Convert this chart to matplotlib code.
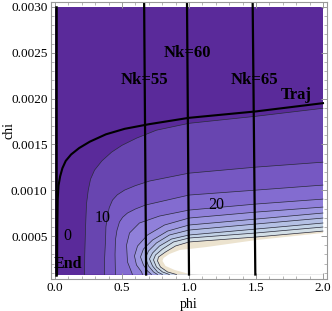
import matplotlib
matplotlib.use("Agg")
import matplotlib.pyplot as plt
from matplotlib.ticker import MultipleLocator, FormatStrFormatter

plt.rcParams['font.family'] = ['Liberation Serif', 'DejaVu Serif']

phi_max = 2.0
chi_min = 0.00008
chi_max = 0.0030

# contour lines, outermost first
contour_phi = [
    [2.0, 1.5, 1.0, 0.757, 0.608, 0.5, 0.422, 0.35, 0.295, 0.265, 0.248, 0.235, 0.228, 0.222, 0.22],
    [2.0, 1.5, 1.0, 0.705, 0.6, 0.519, 0.465, 0.429, 0.405, 0.392, 0.38, 0.377, 0.37, 0.369],
    [2.0, 1.5, 1.0, 0.675, 0.6, 0.541, 0.505, 0.481, 0.462, 0.451, 0.448, 0.451],
    [2.0, 1.5, 1.0, 0.78, 0.63, 0.556, 0.534, 0.541, 0.578],
    [2.0, 1.5, 1.0, 0.817, 0.69, 0.616, 0.593, 0.608, 0.646, 0.653],
    [2.0, 1.5, 1.0, 0.84, 0.728, 0.66, 0.638, 0.66, 0.69, 0.72],
    [2.0, 1.5, 1.0, 0.854, 0.757, 0.698, 0.675, 0.698, 0.735, 0.765],
    [2.0, 1.5, 1.0, 0.869, 0.78, 0.728, 0.705, 0.728, 0.765, 0.802],
    [2.0, 1.5, 1.0, 0.884, 0.802, 0.75, 0.735, 0.757, 0.802, 0.854],
    [2.0, 1.5, 1.0, 0.899, 0.825, 0.772, 0.765, 0.787, 0.84, 0.907],
]
contour_chi = [
    [0.001894, 0.001807, 0.00173, 0.001655, 0.001568, 0.00149, 0.001415, 0.00132, 0.001219, 0.00112, 0.001, 0.00085, 0.0006, 0.0003, 0.00008],
    [0.001306, 0.001252, 0.001186, 0.0011, 0.00105, 0.001001, 0.00095, 0.000892, 0.00081, 0.000729, 0.0006, 0.000456, 0.00025, 0.00008],
    [0.001056, 0.001001, 0.000947, 0.000838, 0.000795, 0.000751, 0.000705, 0.000653, 0.00056, 0.000456, 0.0003, 0.00008],
    [0.000903, 0.000849, 0.000783, 0.000718, 0.000642, 0.000533, 0.000402, 0.000217, 0.00008],
    [0.000816, 0.000761, 0.000696, 0.00062, 0.000511, 0.000391, 0.000282, 0.000184, 0.000108, 0.00008],
    [0.000751, 0.000685, 0.00062, 0.000554, 0.000456, 0.000358, 0.000271, 0.000184, 0.000119, 0.00008],
    [0.000696, 0.000631, 0.000565, 0.000511, 0.000424, 0.000337, 0.00026, 0.000173, 0.000108, 0.00008],
    [0.000642, 0.000576, 0.000511, 0.000467, 0.000391, 0.000315, 0.00025, 0.000173, 0.000108, 0.00008],
    [0.000598, 0.000533, 0.000478, 0.000435, 0.000358, 0.000293, 0.000239, 0.000162, 0.000108, 0.00008],
    [0.000554, 0.000489, 0.000435, 0.000391, 0.000326, 0.000271, 0.000228, 0.000162, 0.000108, 0.00008],
]

# edge of the blank (white) region
blank_phi = [2.0, 1.5, 1.131, 0.929, 0.854, 0.81, 0.802, 0.825, 0.892, 1.0, 1.078]
blank_chi = [0.000533, 0.000456, 0.00038, 0.000347, 0.000304, 0.00026, 0.000228, 0.000173, 0.00013, 0.000086, 0.00008]

traj_phi = [0.015, 0.017, 0.02, 0.026, 0.038, 0.055, 0.08, 0.12, 0.18, 0.26, 0.38, 0.52, 0.7, 1.0, 1.5, 2.0]
traj_chi = [0.00008, 0.0006, 0.0009, 0.00105, 0.00115, 0.00124, 0.00132, 0.00139, 0.00146, 0.00153,
            0.00161, 0.00167, 0.00172, 0.00179, 0.00186, 0.00195]

nk_values = [55, 60, 65]
nk_phi_low = [0.68, 1.0, 1.495]
nk_phi_high = [0.665, 0.985, 1.475]
nk_label_chi = [0.0022, 0.0025, 0.0022]
end_phi = 0.006

bg_color = '#5a2a9a'
band_colors = ['#6845b0', '#7658c2', '#836cd0', '#9080da', '#9c96e0', '#a8acE2',
               '#b4c0e4', '#c2d2e6', '#d2dee6', '#ece3cf']

fig = plt.figure(figsize=(3.32, 3.11), dpi=100)
ax = fig.add_axes([51/332, 32/311, 276/332, 277/311])

ax.fill_between([0, phi_max], chi_min, chi_max, color=bg_color, lw=0)
for k in range(len(contour_phi)):
    ax.fill(contour_phi[k] + [phi_max], contour_chi[k] + [chi_min], color=band_colors[k], lw=0)
ax.fill(blank_phi + [phi_max], blank_chi + [chi_min], color='white', lw=0)
for k in range(len(contour_phi)):
    ax.plot(contour_phi[k], contour_chi[k], color='#2a2a3a', lw=0.5)

ax.plot(traj_phi, traj_chi, color='black', lw=1.5)
ax.plot([end_phi, end_phi], [chi_min, chi_max], color='black', lw=1.8)
for lo, hi in zip(nk_phi_low, nk_phi_high):
    ax.plot([lo, hi], [chi_min, 0.00307], color='black', lw=1.6)

for v, p, c in zip(nk_values, nk_phi_low, nk_label_chi):
    ax.text(p - 0.01, c, "Nk=%d" % v, ha='center', va='center', fontsize=12, fontweight='bold')
ax.text(1.80, 0.00204, "Traj", ha='center', va='center', fontsize=12, fontweight='bold')
ax.text(0.10, 0.0002, "End", ha='center', va='center', fontsize=11.5, fontweight='bold')
ax.text(0.095, 0.0005, "0", ha='center', va='center', fontsize=11.5)
ax.text(0.355, 0.0007, "10", ha='center', va='center', fontsize=11.5)
ax.text(1.2, 0.00084, "20", ha='center', va='center', fontsize=11.5)

ax.set_xlim(-0.03, 2.03)
ax.set_ylim(0.000031, 0.003054)
ax.xaxis.set_major_locator(MultipleLocator(0.5))
ax.xaxis.set_minor_locator(MultipleLocator(0.1))
ax.yaxis.set_major_locator(MultipleLocator(0.0005))
ax.yaxis.set_minor_locator(MultipleLocator(0.0001))
ax.xaxis.set_major_formatter(FormatStrFormatter('%.1f'))
ax.yaxis.set_major_formatter(FormatStrFormatter('%.4f'))
ax.tick_params(which='both', direction='in', top=True, right=True, color='#999999', labelsize=9.5, pad=2.5)
ax.tick_params(which='major', length=4, width=0.7)
ax.tick_params(which='minor', length=2, width=0.5)
for s in ax.spines.values():
    s.set_color('#999999')
    s.set_linewidth(0.8)
ax.set_xlabel("phi", fontsize=10)
ax.xaxis.set_label_coords(0.5, -0.07)
ax.set_ylabel("chi", fontsize=10)
ax.yaxis.set_label_coords(-0.13, 0.535)

fig.savefig("out.png", dpi=100)
plt.close(fig)
